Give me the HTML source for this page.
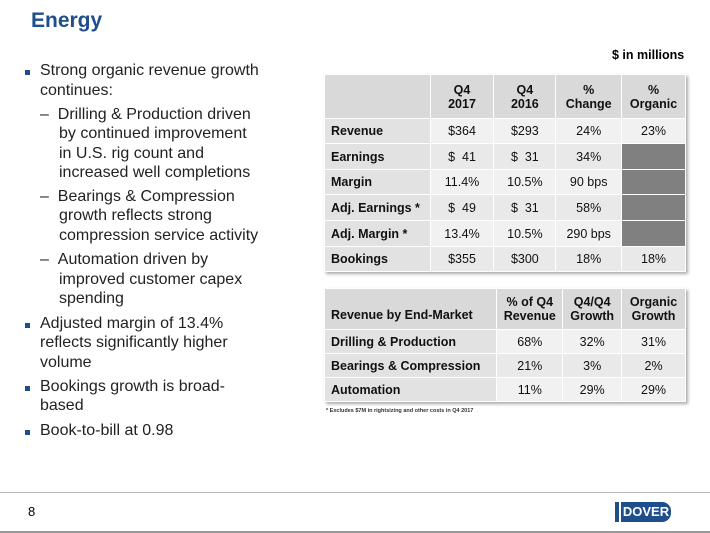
<!DOCTYPE html>
<html><head><meta charset="utf-8"><style>
body{margin:0;width:710px;height:533px;background:#fff;font-family:"Liberation Sans",sans-serif;position:relative;overflow:hidden}
.a{position:absolute;white-space:nowrap}
.t{position:absolute;font-size:16px;color:#222;white-space:nowrap}
.sq{position:absolute;width:5px;height:5px;background:#1f4e8c}
table{position:absolute;border-collapse:collapse;font-size:12.5px;color:#111;box-shadow:2px 2px 3px #aaa}
td{border:1px solid #fff;padding:0 6px;text-align:center}
th{border:1px solid #fff;font-weight:bold;text-align:center;background:#d9d9d9;line-height:14px}
td.l{text-align:left;font-weight:bold;background:#e4e4e4}
tr.o td{background:#f1f1f1} tr.e td{background:#e9e9e9}
tr.o td.l,tr.e td.l{background:#e2e2e2}
td.d{background:#808080 !important}
</style></head><body>
<div class="a" style="left:31px;top:9px;font-size:21px;font-weight:bold;color:#1f4e8c">Energy</div>
<div class="a" style="left:612px;top:48px;font-size:12.5px;font-weight:bold">$ in millions</div>

<div>
<div class="sq" style="left:25px;top:70px"></div>
<div class="t" style="left:40px;top:62px">Strong organic revenue growth</div>
<div class="t" style="left:40px;top:82px">continues:</div>
<div class="t" style="left:40px;top:106px">– &nbsp;Drilling &amp; Production driven</div>
<div class="t" style="left:59px;top:125px">by continued improvement</div>
<div class="t" style="left:59px;top:145px">in U.S. rig count and</div>
<div class="t" style="left:59px;top:164px">increased well completions</div>
<div class="t" style="left:40px;top:188px">– &nbsp;Bearings &amp; Compression</div>
<div class="t" style="left:59px;top:207px">growth reflects strong</div>
<div class="t" style="left:59px;top:227px">compression service activity</div>
<div class="t" style="left:40px;top:251px">– &nbsp;Automation driven by</div>
<div class="t" style="left:59px;top:271px">improved customer capex</div>
<div class="t" style="left:59px;top:290px">spending</div>
<div class="sq" style="left:25px;top:323px"></div>
<div class="t" style="left:40px;top:315px">Adjusted margin of 13.4%</div>
<div class="t" style="left:40px;top:334px">reflects significantly higher</div>
<div class="t" style="left:40px;top:354px">volume</div>
<div class="sq" style="left:25px;top:386px"></div>
<div class="t" style="left:40px;top:378px">Bookings growth is broad-</div>
<div class="t" style="left:40px;top:397px">based</div>
<div class="sq" style="left:25px;top:430px"></div>
<div class="t" style="left:40px;top:422px">Book-to-bill at 0.98</div>
</div>

<table style="left:324px;top:74px;width:362px">
<colgroup><col style="width:106px"><col style="width:64px"><col style="width:62px"><col style="width:66px"><col style="width:64px"></colgroup>
<tr style="height:44px"><th></th><th>Q4<br>2017</th><th>Q4<br>2016</th><th>%<br>Change</th><th>%<br>Organic</th></tr>
<tr class="o" style="height:25px"><td class="l">Revenue</td><td>$364</td><td>$293</td><td>24%</td><td>23%</td></tr>
<tr class="e" style="height:26px"><td class="l">Earnings</td><td>$ &nbsp;41</td><td>$ &nbsp;31</td><td>34%</td><td class="d"></td></tr>
<tr class="o" style="height:25px"><td class="l">Margin</td><td>11.4%</td><td>10.5%</td><td>90 bps</td><td class="d"></td></tr>
<tr class="e" style="height:26px"><td class="l">Adj. Earnings *</td><td>$ &nbsp;49</td><td>$ &nbsp;31</td><td>58%</td><td class="d"></td></tr>
<tr class="o" style="height:26px"><td class="l">Adj. Margin *</td><td>13.4%</td><td>10.5%</td><td>290 bps</td><td class="d"></td></tr>
<tr class="e" style="height:25px"><td class="l">Bookings</td><td>$355</td><td>$300</td><td>18%</td><td>18%</td></tr>
</table>

<table style="left:324px;top:288px;width:362px">
<colgroup><col style="width:173px"><col style="width:66px"><col style="width:59px"><col style="width:64px"></colgroup>
<tr style="height:41px"><th style="text-align:left;padding:12px 6px 0 6px">Revenue by End-Market</th><th>% of Q4<br>Revenue</th><th>Q4/Q4<br>Growth</th><th>Organic<br>Growth</th></tr>
<tr class="o" style="height:24px"><td class="l">Drilling &amp; Production</td><td>68%</td><td>32%</td><td>31%</td></tr>
<tr class="e" style="height:24px"><td class="l">Bearings &amp; Compression</td><td>21%</td><td>3%</td><td>2%</td></tr>
<tr class="o" style="height:24px"><td class="l">Automation</td><td>11%</td><td>29%</td><td>29%</td></tr>
</table>
<div class="a" style="left:326px;top:408px;font-size:5.5px;font-weight:bold;color:#333">* Excludes $7M in rightsizing and other costs in Q4 2017</div>

<div class="a" style="left:0;top:492px;width:710px;height:1px;background:#bbb"></div>
<div class="a" style="left:28px;top:504px;font-size:13px">8</div>
<div class="a" style="left:615px;top:502px;width:4px;height:20px;background:#1f4e8c"></div>
<div class="a" style="left:621px;top:502px;width:50px;height:20px;background:#1f4e8c;border-radius:0 9px 9px 0;color:#fff;font-weight:bold;font-size:13px;line-height:20px;text-align:center">DOVER</div>
<div class="a" style="left:0;top:531px;width:710px;height:2px;background:#999"></div>
</body></html>
